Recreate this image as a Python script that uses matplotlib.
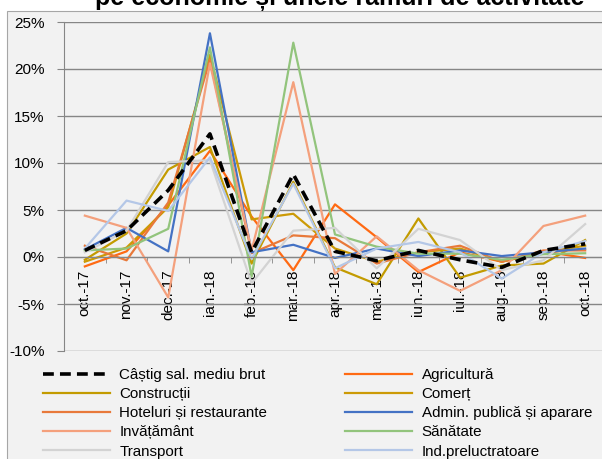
import matplotlib
matplotlib.use("Agg")
import matplotlib.pyplot as plt
from matplotlib.patches import Rectangle
import numpy as np

plt.rcParams['font.family'] = ['Liberation Sans', 'DejaVu Sans']

luni = ["oct.-17", "nov.-17", "dec.-17", "ian.-18", "feb.-18", "mar.-18", "apr.-18",
        "mai.-18", "iun.-18", "iul.-18", "aug.-18", "sep.-18", "oct.-18"]

# variatii lunare, %
castig = [0.7, 2.8, 7.1, 13.1, 0.5, 8.8, 0.6, -0.4, 0.7, -0.3, -1.1, 0.7, 1.4]
agricultura = [-1.0, 0.6, 5.5, 11.3, 4.3, -1.4, 5.6, 2.1, -1.6, 0.5, -0.5, 0.6, -0.1]
constructii = [-0.3, 2.5, 9.3, 11.7, -0.7, 8.0, -1.1, -2.9, 4.1, -2.2, -0.9, -0.7, 1.8]
comert = [-0.5, 1.0, 5.3, 21.5, 4.0, 4.6, 0.9, -0.5, 0.5, 0.9, -0.5, 0.5, 1.2]
hoteluri = [1.2, -0.35, 5.8, 21.0, 0.4, 2.3, 2.0, -0.7, 0.5, 1.2, -0.5, 0.7, 0.7]
admin = [0.8, 3.1, 0.6, 23.8, 0.5, 1.3, -0.1, 0.9, 0.1, 0.7, 0.1, 0.5, 0.9]
invatamant = [4.4, 3.1, -4.3, 20.6, 0.7, 18.6, -1.8, 2.2, -1.4, -3.6, -1.4, 3.3, 4.4]
sanatate = [0.7, 0.9, 3.0, 22.3, -2.1, 22.8, 2.4, 1.1, 0.35, 0.35, -0.3, 0.3, 0.4]
transport = [0.5, 2.8, 10.1, 10.3, -2.8, 2.8, 3.1, -1.2, 3.0, 1.8, -1.4, -0.35, 3.5]
ind_prel = [0.9, 6.0, 4.9, 10.6, -0.2, 7.8, -1.2, 0.9, 1.6, 0.5, -2.3, 0.5, 1.7]

y_ticks = [25, 20, 15, 10, 5, 0, -5, -10]
y_labels = ["25%", "20%", "15%", "10%", "5%", "0%", "-5%", "-10%"]

fig = plt.figure(figsize=(6.02, 4.59), dpi=100)
fig.patch.set_facecolor('white')

# chenarul graficului
fig.patches.append(Rectangle((7 / 602, -0.1), 1.2, 1 - 11 / 459 + 0.1, transform=fig.transFigure,
                             facecolor='#f2f2f2', edgecolor='#a6a6a6', linewidth=0.8, zorder=-1))

fig.text(0.565, 1 - 5 / 459, "pe economie și unele ramuri de activitate",
         ha='center', va='baseline', fontsize=18, fontweight='bold')

ax = fig.add_axes([64 / 602, 108 / 459, 542 / 602, 329 / 459])
ax.set_facecolor('#f2f2f2')

x = np.arange(len(luni))
gri = '#868686'

serii = [
    (agricultura, "Agricultură", '#ff6a13'),
    (constructii, "Construcții", '#c39b00'),
    (comert, "Comerț", '#cc9a06'),
    (hoteluri, "Hoteluri și restaurante", '#e8793a'),
    (admin, "Admin. publică și aparare", '#4472c4'),
    (invatamant, "Invățământ", '#f4a07c'),
    (sanatate, "Sănătate", '#92c47c'),
    (transport, "Transport", '#d3d3d3'),
    (ind_prel, "Ind.preluctratoare", '#b4c7e7'),
]
h = {}
for vals, nume, cul in serii:
    h[nume], = ax.plot(x, vals, color=cul, lw=1.6, label=nume)

h["Câștig sal. mediu brut"], = ax.plot(x, castig, color='black', lw=2.6, ls=(0, (3, 1.7)),
                                       label="Câștig sal. mediu brut", zorder=5)

ax.set_xlim(-0.5, 12.5)
ax.set_ylim(-10, 25)
ax.set_yticks(y_ticks)
ax.set_yticklabels(y_labels, fontsize=11)
ax.yaxis.grid(True, color=gri, lw=1)
ax.set_axisbelow(True)

for s in ['top', 'right']:
    ax.spines[s].set_visible(False)
ax.spines['left'].set_color(gri)
ax.spines['bottom'].set_position(('data', 0))
ax.spines['bottom'].set_color(gri)

ax.set_xticks(x)
ax.set_xticklabels(luni, rotation=90, fontsize=11)
ax.set_xticks(np.arange(0.5, 12.5, 1), minor=True)
ax.tick_params(axis='x', which='major', length=0, pad=9)
ax.tick_params(axis='x', which='minor', length=4, color=gri)
ax.tick_params(axis='y', length=5, color=gri, pad=9)

ordine = ["Câștig sal. mediu brut", "Construcții", "Hoteluri și restaurante", "Invățământ", "Transport",
          "Agricultură", "Comerț", "Admin. publică și aparare", "Sănătate", "Ind.preluctratoare"]
fig.legend([h[n] for n in ordine], ordine, ncol=2, loc='upper left',
           bbox_to_anchor=(43 / 602, 1 - 368 / 459), frameon=False, fontsize=10.9,
           handlelength=4.4, handletextpad=0.65, labelspacing=0.34, columnspacing=5.15,
           borderpad=0, borderaxespad=0)

fig.savefig("out.png", dpi=100)
